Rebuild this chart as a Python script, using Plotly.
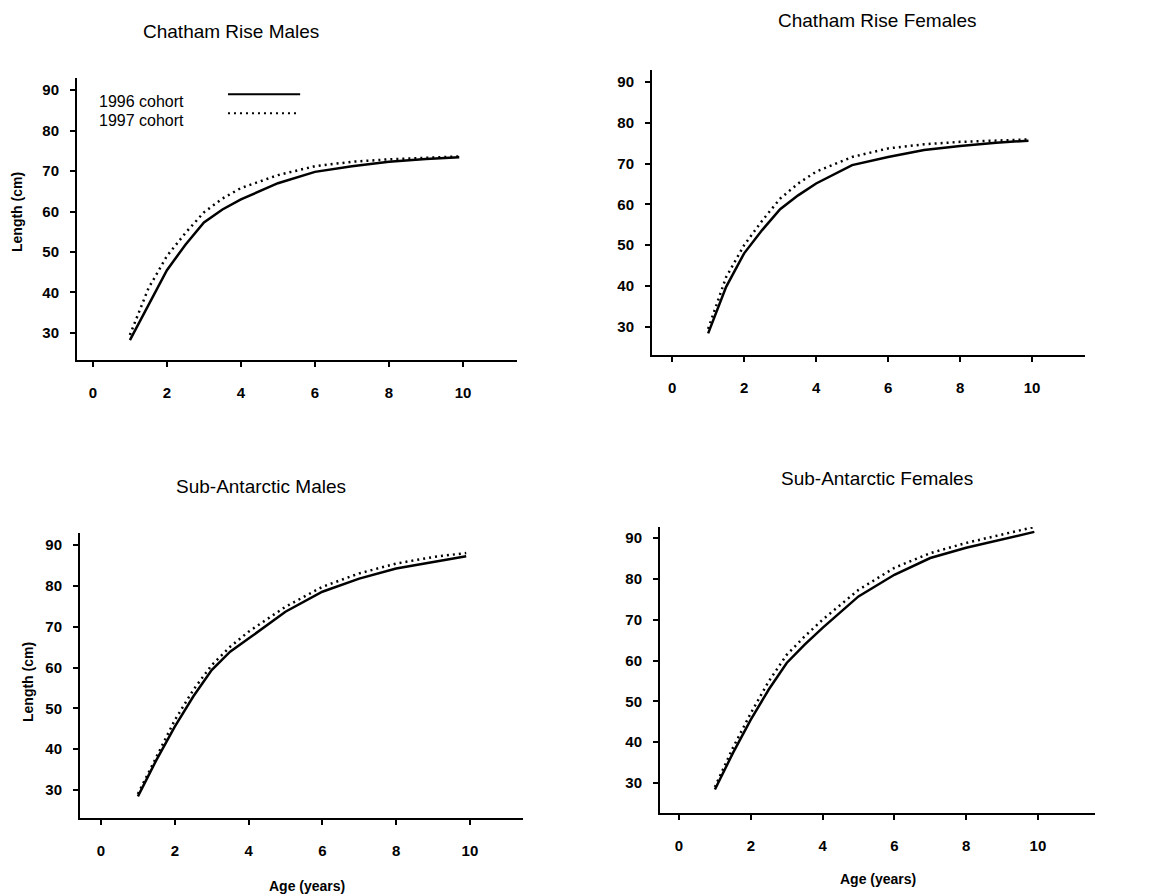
import plotly.graph_objects as go

# Ages (years) at which the fitted growth curves are drawn
ages = [1, 1.5, 2, 2.5, 3, 3.5, 4, 5, 6, 7, 8, 9, 9.9]

# Mean length at age (cm) for each area / sex, by cohort
cr_males_1996 = [28.2, 37.0, 45.5, 51.8, 57.3, 60.5, 63.0, 67.0, 69.8, 71.2, 72.3, 73.0, 73.4]
cr_males_1997 = [29.5, 41.0, 49.0, 54.7, 59.8, 63.2, 65.8, 69.0, 71.2, 72.3, 72.9, 73.3, 73.6]
cr_females_1996 = [28.4, 39.8, 48.0, 53.7, 58.8, 62.2, 65.1, 69.6, 71.6, 73.3, 74.3, 75.1, 75.6]
cr_females_1997 = [29.5, 42.2, 50.0, 56.0, 61.4, 65.1, 68.0, 71.6, 73.7, 74.7, 75.3, 75.7, 75.9]
sa_males_1996 = [28.4, 37.3, 45.5, 52.9, 59.4, 63.9, 67.1, 73.7, 78.6, 81.8, 84.3, 85.9, 87.3]
sa_males_1997 = [29.0, 38.2, 47.1, 54.5, 60.6, 65.1, 68.8, 74.9, 79.8, 83.1, 85.5, 87.1, 88.1]
sa_females_1996 = [28.4, 37.3, 45.5, 52.9, 59.4, 63.9, 68.0, 75.7, 81.0, 85.1, 87.6, 89.6, 91.5]
sa_females_1997 = [29.0, 38.6, 47.1, 54.9, 61.4, 65.9, 70.0, 77.3, 82.7, 86.3, 88.8, 90.8, 92.7]

panel_titles = ["Chatham Rise Males", "Chatham Rise Females",
                "Sub-Antarctic Males", "Sub-Antarctic Females"]
cohort_names = ["1996 cohort", "1997 cohort"]
x_ticks = [0, 2, 4, 6, 8, 10]
y_ticks = [30, 40, 50, 60, 70, 80, 90]

W, H = 1151, 896
FONT = "Arial, Liberation Sans, Helvetica, sans-serif"

# pixel boxes of each panel: (left, right, top, bottom) and axis ranges
panels = [
    dict(box=(77, 517, 78, 360), xr=[-0.43, 11.46], yr=[23.3, 93.0],
         data=(cr_males_1996, cr_males_1997)),
    dict(box=(652, 1085, 70, 355), xr=[-0.56, 11.47], yr=[23.1, 92.9],
         data=(cr_females_1996, cr_females_1997)),
    dict(box=(80, 523, 533, 818), xr=[-0.57, 11.44], yr=[23.1, 93.0],
         data=(sa_males_1996, sa_males_1997)),
    dict(box=(660, 1095, 527, 813), xr=[-0.53, 11.59], yr=[22.65, 92.7],
         data=(sa_females_1996, sa_females_1997)),
]

fig = go.Figure()
layout = {}

for i, p in enumerate(panels, start=1):
    l, r, t, b = p["box"]
    xa = "xaxis" if i == 1 else f"xaxis{i}"
    ya = "yaxis" if i == 1 else f"yaxis{i}"
    xref = "x" if i == 1 else f"x{i}"
    yref = "y" if i == 1 else f"y{i}"
    common = dict(showline=True, linecolor="black", linewidth=2,
                  ticks="outside", ticklen=5, tickwidth=2, tickcolor="black",
                  showgrid=False, zeroline=False, fixedrange=True,
                  tickfont=dict(family=FONT, size=15, color="black", weight="bold"))
    layout[xa] = dict(domain=[l / W, r / W], range=p["xr"], anchor=yref,
                      tickvals=x_ticks, ticklabelstandoff=13, **common)
    layout[ya] = dict(domain=[1 - b / H, 1 - t / H], range=p["yr"], anchor=xref,
                      tickvals=y_ticks, ticklabelstandoff=8, **common)

    solid, dotted = p["data"]
    fig.add_trace(go.Scatter(x=ages, y=solid, mode="lines", name=cohort_names[0],
                             line=dict(color="black", width=2.5),
                             xaxis=xref, yaxis=yref, showlegend=False))
    fig.add_trace(go.Scatter(x=ages, y=dotted, mode="lines", name=cohort_names[1],
                             line=dict(color="black", width=2.5, dash="2px,4px"),
                             xaxis=xref, yaxis=yref, showlegend=False))

# panel titles
title_pos = [(231, 32), (877, 20), (261, 486), (877, 478)]
annotations = []
for text, (cx, cy) in zip(panel_titles, title_pos):
    annotations.append(dict(text=text, x=cx / W, y=1 - cy / H, xref="paper", yref="paper",
                            showarrow=False, xanchor="center", yanchor="middle",
                            font=dict(family=FONT, size=19, color="black")))

# axis titles
for cx, cy in [(17, 212), (28, 682)]:
    annotations.append(dict(text="Length (cm)", x=cx / W, y=1 - cy / H, xref="paper",
                            yref="paper", showarrow=False, textangle=-90,
                            xanchor="center", yanchor="middle",
                            font=dict(family=FONT, size=14, color="black", weight="bold")))
for cx, cy in [(307, 886), (878, 879)]:
    annotations.append(dict(text="Age (years)", x=cx / W, y=1 - cy / H, xref="paper",
                            yref="paper", showarrow=False, xanchor="center",
                            yanchor="middle",
                            font=dict(family=FONT, size=14, color="black", weight="bold")))

# key in the first panel: label on the left, line sample on the right
key_rows = [(87.3, 89.0, 5.6, "solid"), (82.6, 84.3, 5.49, "2px,4px")]
shapes = []
for name, (ty, ly, lx1, dash) in zip(cohort_names, key_rows):
    annotations.append(dict(text=name, x=0.11, y=ty, xref="x", yref="y", showarrow=False,
                            xanchor="left", yanchor="middle",
                            font=dict(family=FONT, size=16, color="black")))
    shapes.append(dict(type="line", xref="x", yref="y", x0=3.65, x1=lx1, y0=ly, y1=ly,
                       line=dict(color="black", width=2, dash=dash)))

fig.update_layout(width=W, height=H, margin=dict(l=0, r=0, t=0, b=0),
                  paper_bgcolor="white", plot_bgcolor="white",
                  annotations=annotations, shapes=shapes, showlegend=False, **layout)

fig.write_html("out.html", config={"displayModeBar": False})
